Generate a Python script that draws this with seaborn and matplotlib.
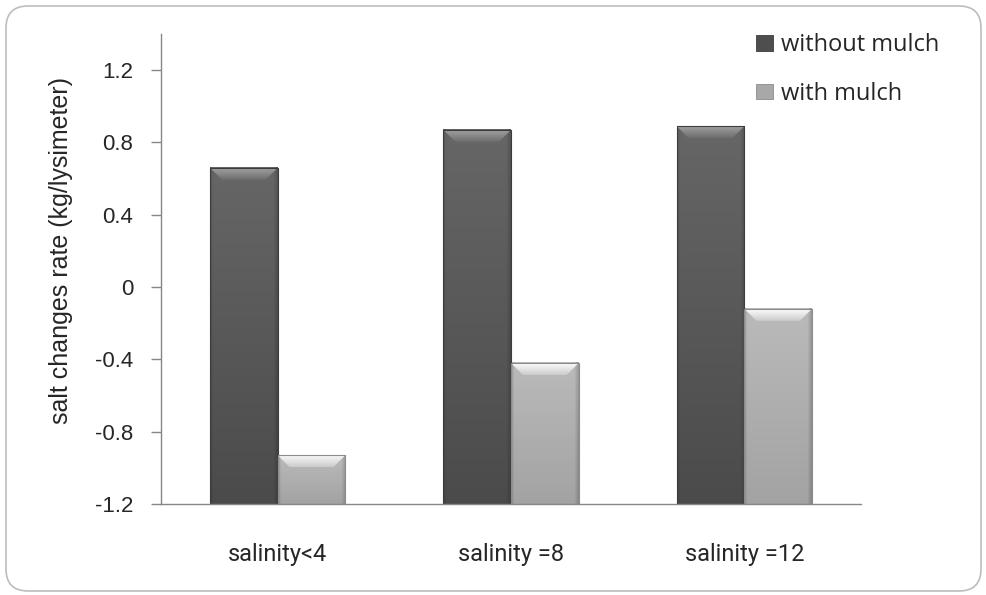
import numpy as np
import pandas as pd
import seaborn as sns
import matplotlib.pyplot as plt
from matplotlib.patches import FancyBboxPatch, Polygon, Rectangle
from matplotlib.colors import to_rgb
from matplotlib.transforms import IdentityTransform

# ---- data -----------------------------------------------------------------
categories = ["salinity<4", "salinity =8", "salinity =12"]
series_names = ["without mulch", "with mulch"]
without_mulch = [0.66, 0.87, 0.89]
with_mulch = [-0.93, -0.42, -0.12]
y_ticks = [-1.2, -0.8, -0.4, 0.0, 0.4, 0.8, 1.2]
y_tick_labels = ["-1.2", "-0.8", "-0.4", "0", "0.4", "0.8", "1.2"]
y_label = "salt changes rate (kg/lysimeter)"

BASE = -1.2   # the category axis crosses here, bars rise from it
Y_TOP = 1.4

df = pd.DataFrame({
    "category": categories * 2,
    "series": [series_names[0]] * len(categories) + [series_names[1]] * len(categories),
    "value": without_mulch + with_mulch,
})

# ---- look -----------------------------------------------------------------
sns.set_theme(style="white")
plt.rcParams["font.family"] = ["Liberation Sans", "DejaVu Sans"]

TEXT = "#262626"
AXIS = "#868686"
styles = {
    "without mulch": dict(body_top="#656665", body_bot="#4a4b4a", bev_top="#a0a0a0",
                          bev_bot="#6c6d6c", edge="#3c3c3c", legend="#4e4e4e"),
    "with mulch": dict(body_top="#bababa", body_bot="#a3a3a3", bev_top="#fdfdfd",
                       bev_bot="#cbcbcb", edge="#8c8c8c", legend="#a8a8a8"),
}
palette = {k: v["body_top"] for k, v in styles.items()}

W, H = 986, 595
fig = plt.figure(figsize=(W / 100, H / 100), dpi=100)
fig.patch.set_facecolor("white")

# plot area in pixels
ax_l, ax_r, ax_t, ax_b = 161, 861, 34, 504
ax = fig.add_axes([ax_l / W, 1 - ax_b / H, (ax_r - ax_l) / W, (ax_b - ax_t) / H])

sns.barplot(data=df, x="category", y="value", hue="series",
            order=categories, hue_order=series_names, palette=palette,
            saturation=1, width=0.58, ax=ax, zorder=2)

ax.set_xlim(-0.5, len(categories) - 0.5)
ax.set_ylim(BASE, Y_TOP)

# data units per pixel
px_x = len(categories) / (ax_r - ax_l)
px_y = (Y_TOP - BASE) / (ax_b - ax_t)


def vgrad(c_top, c_bot, n=64):
    t = np.linspace(0, 1, n)[:, None]
    a = np.array(to_rgb(c_top))
    b = np.array(to_rgb(c_bot))
    return a * (1 - t) + b * t


# bevelled bars: grow each bar from the axis crossing, shade it, add a top bevel
for container, name in zip(ax.containers, series_names):
    st = styles[name]
    for bar in container:
        value = bar.get_height()
        x0 = bar.get_x()
        w = bar.get_width()
        x1 = x0 + w
        top = value
        bar.set_y(BASE)
        bar.set_height(top - BASE)
        bar.set_facecolor("none")
        bar.set_edgecolor(st["edge"])
        bar.set_linewidth(0.8)
        bar.set_zorder(2.4)

        body = vgrad(st["body_top"], st["body_bot"])
        cols = 80
        f = np.ones(cols)
        f[:4] = np.linspace(0.86, 0.98, 4)
        f[-5:] = np.linspace(0.97, 0.82, 5)
        img = np.clip(body[:, None, :] * f[None, :, None], 0, 1)
        ax.imshow(img, extent=[x0, x1, BASE, top], origin="upper", aspect="auto",
                  interpolation="bilinear", zorder=2.1)

        dx = 12 * px_x
        dy = 12 * px_y
        bevel = Polygon([(x0, top), (x1, top), (x1 - dx, top - dy), (x0 + dx, top - dy)],
                        closed=True, facecolor="none", edgecolor="none",
                        transform=ax.transData)
        ax.add_patch(bevel)
        bev = vgrad(st["bev_top"], st["bev_bot"], 32)[:, None, :].repeat(4, axis=1)
        im = ax.imshow(bev, extent=[x0, x1, top - dy, top], origin="upper", aspect="auto",
                       interpolation="bilinear", zorder=2.2)
        im.set_clip_path(bevel)

ax.set_xlim(-0.5, len(categories) - 0.5)
ax.set_ylim(BASE, Y_TOP)

# axes
for side in ("top", "right"):
    ax.spines[side].set_visible(False)
for side in ("left", "bottom"):
    ax.spines[side].set_color(AXIS)
    ax.spines[side].set_linewidth(1.0)
ax.set_facecolor("white")
ax.grid(False)

ax.set_yticks(y_ticks)
ax.set_yticklabels(y_tick_labels)
ax.tick_params(axis="y", direction="out", length=7, width=1, color=AXIS,
               pad=13, labelsize=16, labelcolor=TEXT, left=True)
ax.tick_params(axis="x", length=0, pad=28, labelsize=17, labelcolor=TEXT)
for lbl in ax.get_xticklabels():
    lbl.set_fontfamily(["Roboto", "DejaVu Sans"])

ax.set_xlabel("")
ax.set_ylabel(y_label, fontsize=18, color=TEXT)
ax.yaxis.label.set_va("center")
ax.yaxis.label.set_ha("center")
ax.yaxis.set_label_coords((61 - ax_l) / (ax_r - ax_l), (ax_b - 250) / (ax_b - ax_t))

# legend
if ax.get_legend() is not None:
    ax.get_legend().remove()
handles = [Rectangle((0, 0), 1, 1, facecolor=styles[s]["legend"], edgecolor=styles[s]["edge"],
                     linewidth=0.6) for s in series_names]
ax.legend(handles, series_names, loc="upper left",
          bbox_to_anchor=(756 / W, 1 - 33 / H), bbox_transform=fig.transFigure,
          frameon=False, handlelength=0.7, handleheight=0.65, handletextpad=0.35,
          labelspacing=1.05, borderpad=0, borderaxespad=0,
          prop={"family": ["Open Sans", "DejaVu Sans"], "size": 17},
          labelcolor=TEXT)

# rounded frame around the chart
frame = FancyBboxPatch((6, 4), 975, 585, boxstyle="round,pad=0,rounding_size=22",
                       transform=IdentityTransform(), facecolor="none",
                       edgecolor="#bdbdbd", linewidth=1.2)
fig.add_artist(frame)

fig.savefig("out.png", dpi=100, facecolor="white")
